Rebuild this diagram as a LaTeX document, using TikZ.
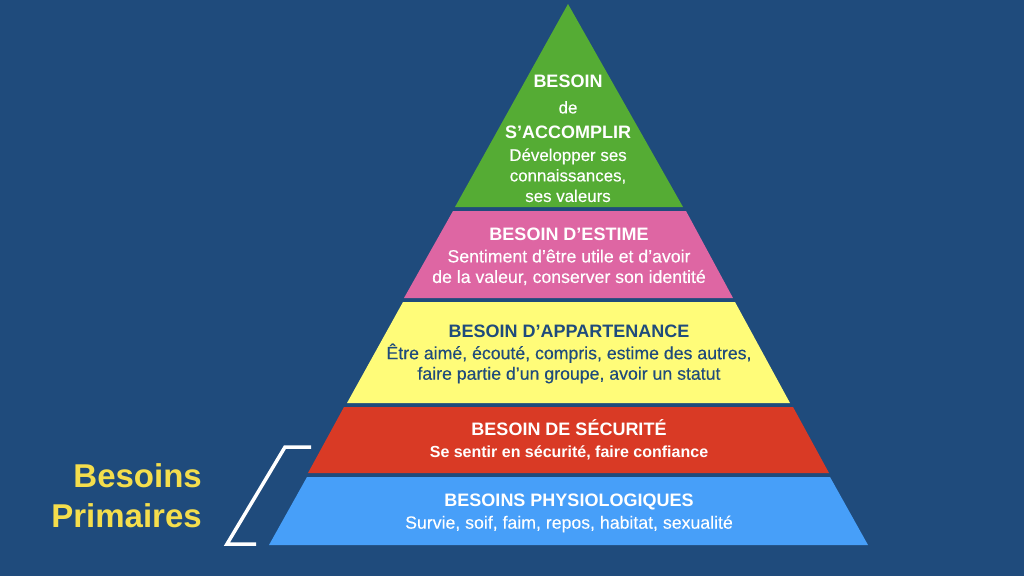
\documentclass[tikz,border=0pt]{standalone}
\usepackage{fontspec}
\setmainfont{Liberation Sans}
\newfontfamily\medfont[FakeBold=0.3]{Liberation Sans}
\newfontfamily\boldfont{Liberation Sans Bold}
\definecolor{bg}{HTML}{1F4B7C}
\definecolor{vert}{HTML}{55AC34}
\definecolor{rose}{HTML}{DE66A3}
\definecolor{jaune}{HTML}{FFFC79}
\definecolor{rouge}{HTML}{D93A25}
\definecolor{bleu}{HTML}{479FF9}
\definecolor{titre}{HTML}{F5DE4C}
\newcommand{\tit}[1]{{\boldfont\fontsize{18}{20.5}\selectfont #1}}
\newcommand{\sub}[1]{{\medfont\fontsize{17.7}{20.5}\selectfont #1}}
\newcommand{\subg}[1]{{\medfont\fontsize{16.9}{20.5}\selectfont #1}}
\tikzset{
  level/.style={align=center,inner sep=0pt,text=white,font=\fontsize{17}{20.5}\selectfont},
  darklevel/.style={level,text=bg},
  side/.style={align=right,inner sep=0pt,anchor=east,text=titre,font=\boldfont\fontsize{33}{40}\selectfont},
  bracket/.style={draw=white,line width=3.5pt,line join=miter}
}
\begin{document}
\begin{tikzpicture}[x=1pt,y=-1pt]
\useasboundingbox (0,0) rectangle (1024,576);
\fill[bg] (0,0) rectangle (1024,576);
\fill[vert] (568,4) -- (683,207) -- (455,207) -- cycle;
\fill[rose] (453,211) -- (686,211) -- (733,298) -- (404,298) -- cycle;
\fill[jaune] (403,302) -- (735,302) -- (790,403) -- (347,403) -- cycle;
\fill[rouge] (344,407) -- (793,407) -- (829,473) -- (308,473) -- cycle;
\fill[bleu] (307,477) -- (830,477) -- (868,545) -- (269,545) -- cycle;
\node[level] (accomplir) at (568,138.7) {\tit{BESOIN}\\[5pt]\subg{de}\\[5pt]\tit{S’ACCOMPLIR}\\[1.5pt]\subg{Développer ses}\\\subg{connaissances,}\\\subg{ses valeurs}};
\node[level] (estime) at (569,256.5) {\tit{BESOIN D’ESTIME}\\[1.5pt]\sub{Sentiment d’être utile et d’avoir}\\\sub{de la valeur, conserver son identité}};
\node[darklevel] (appartenance) at (569,354) {\tit{BESOIN D’APPARTENANCE}\\[1.5pt]\sub{Être aimé, écouté, compris, estime des autres,}\\\sub{faire partie d’un groupe, avoir un statut}};
\node[level] (securite) at (569,440) {\tit{BESOIN DE SÉCURITÉ}\\[1.5pt]{\boldfont\fontsize{16}{20}\selectfont Se sentir en sécurité, faire confiance}};
\node[level] (physio) at (569,513.2) {\tit{BESOINS PHYSIOLOGIQUES}\\[1.5pt]\sub{Survie, soif, faim, repos, habitat, sexualité}};
\node[side] (primaires) at (202,496) {Besoins\\Primaires};
\coordinate (b1) at (311,447);
\coordinate (b2) at (285,447);
\coordinate (b3) at (227,544);
\coordinate (b4) at (256,544);
\draw[bracket] (b1) -- (b2) -- (b3) -- (b4);
\end{tikzpicture}
\end{document}
